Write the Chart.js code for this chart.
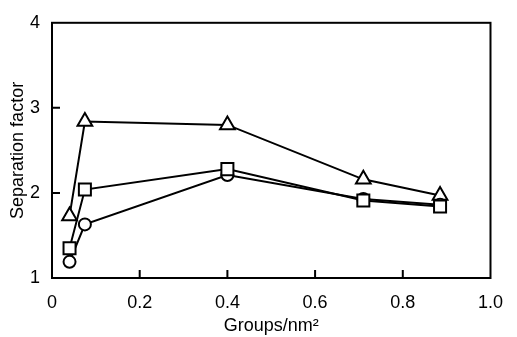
<!DOCTYPE html>
<html><head><meta charset="utf-8">
<script src="https://cdn.jsdelivr.net/npm/chart.js@4"></script>
<style>html,body{margin:0;padding:0;background:#fff}#wrap{width:517px;height:337px}</style>
</head><body><div id="wrap"><canvas id="c" width="517" height="337"></canvas></div>
<script>
const xTriangle = [0.04, 0.075, 0.40, 0.71, 0.885];
const yTriangle = [1.73, 2.84, 2.80, 2.16, 1.97];
const xSquare = [0.04, 0.075, 0.40, 0.71, 0.885];
const ySquare = [1.35, 2.04, 2.28, 1.91, 1.84];
const xCircle = [0.04, 0.075, 0.40, 0.71, 0.885];
const yCircle = [1.19, 1.63, 2.21, 1.93, 1.86];
const xTicks = [0, 0.2, 0.4, 0.6, 0.8, 1.0];
const yTicks = [1, 2, 3, 4];

const toPts = (xs, ys) => xs.map((x, i) => ({x: x, y: ys[i]}));
const FONT = {family: '"Liberation Sans", Arial, sans-serif', size: 18};

const frame = {
  id: 'frame',
  afterDraw(chart) {
    const {ctx, chartArea: a, scales} = chart;
    ctx.save();
    ctx.strokeStyle = '#000';
    ctx.lineWidth = 2;
    ctx.strokeRect(a.left, a.top, a.right - a.left, a.bottom - a.top);
    ctx.beginPath();
    xTicks.slice(1, -1).forEach(v => {
      const px = scales.x.getPixelForValue(v);
      ctx.moveTo(px, a.bottom); ctx.lineTo(px, a.bottom - 8);
    });
    yTicks.slice(1, -1).forEach(v => {
      const py = scales.y.getPixelForValue(v);
      ctx.moveTo(a.left, py); ctx.lineTo(a.left + 8, py);
    });
    ctx.stroke();
    ctx.restore();
  }
};

const ds = (label, xs, ys, style, r) => ({
  label, data: toPts(xs, ys), showLine: true,
  borderColor: '#000', borderWidth: 2, backgroundColor: '#fff',
  pointStyle: style, pointRadius: r, pointBorderWidth: 2,
  pointBackgroundColor: '#fff', pointBorderColor: '#000'
});

new Chart(document.getElementById('c'), {
  type: 'scatter',
  data: {
    datasets: [
      ds('square', xSquare, ySquare, 'rect', 8.5),
      ds('circle', xCircle, yCircle, 'circle', 6),
      ds('triangle', xTriangle, yTriangle, 'triangle', 8.5)
    ]
  },
  options: {
    responsive: false, animation: false, devicePixelRatio: 1,
    layout: {padding: {left: 7, right: 24, top: 19, bottom: 0}},
    plugins: {legend: {display: false}, tooltip: {enabled: false}},
    scales: {
      x: {
        type: 'linear', min: 0, max: 1,
        afterFit: s => { s.height = 59; },
        afterBuildTicks: s => { s.ticks = xTicks.map(v => ({value: v})); },
        grid: {display: false, drawTicks: false},
        border: {display: false},
        ticks: {color: '#000', font: FONT, padding: 14, maxRotation: 0,
          callback: v => v === 0 ? '0' : v.toFixed(1)},
        title: {display: true, text: 'Groups/nm²', color: '#000', font: FONT, padding: {top: 2, bottom: 0}}
      },
      y: {
        type: 'linear', min: 1, max: 4,
        afterFit: s => { s.width = 45; },
        afterBuildTicks: s => { s.ticks = yTicks.map(v => ({value: v})); },
        grid: {display: false, drawTicks: false},
        border: {display: false},
        ticks: {color: '#000', font: FONT, padding: 12, callback: v => String(v)},
        title: {display: true, text: 'Separation factor', color: '#000', font: FONT, padding: {top: 0, bottom: 2}}
      }
    }
  },
  plugins: [frame]
});
</script></body></html>
